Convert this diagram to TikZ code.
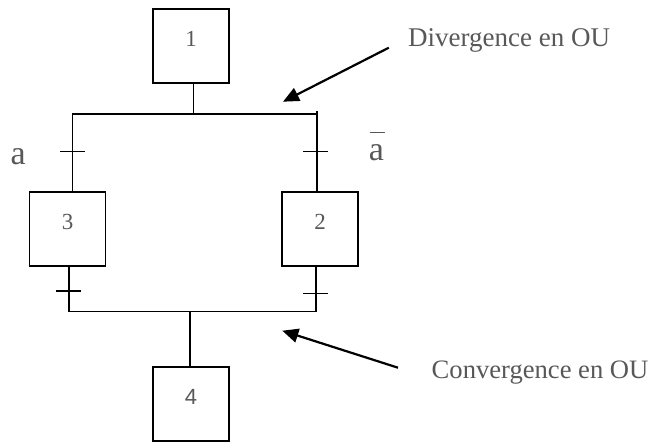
\documentclass[tikz,border=0pt]{standalone}
\usepackage{fontspec}
\setmainfont{Liberation Serif}
\newfontfamily\digsans{Liberation Sans}
\usetikzlibrary{arrows.meta,calc}
\definecolor{txtgray}{RGB}{88,88,88}
\begin{document}
\begin{tikzpicture}[x=1pt,y=-1pt,
  stepbox/.style={draw=black, line width=1.3pt, minimum width=76pt, minimum height=74pt,
    inner sep=0pt, text height=15pt, text depth=14pt, text=txtgray,
    font=\fontsize{23}{23}\selectfont},
  link/.style={line width=1.3pt, line cap=rect},
  tick/.style={line width=1.3pt},
  callout/.style={line width=2.2pt, -{Triangle[length=16pt,width=14pt]}},
  lbl/.style={text=txtgray, inner sep=0pt, anchor=base west},
  cond/.style={text=txtgray, inner sep=0pt, anchor=base west, font=\fontsize{34}{34}\selectfont}]
\useasboundingbox (0,0) rectangle (655,442);

% steps
\node[stepbox] (b1) at (191,46) {1};
\node[stepbox] (b3) at (67.5,229) {3};
\node[stepbox] (b2) at (320,229) {2};
\node[stepbox, font=\digsans\fontsize{22}{22}\selectfont] (b4) at (191,404) {4};

% junction points
\coordinate (j1) at (193.5,114);
\coordinate (tl) at (72.5,114);
\coordinate (tr) at (317,114);
\coordinate (bl) at (69,311.7);
\coordinate (br) at (316,311.7);
\coordinate (j2) at (190,311.7);

% divergence
\draw[link] (b1.south -| j1) -- (j1);
\draw[link] (b3.north -| tl) -- (tl) -- (tr) -- (b2.north -| tr);
\draw[link] (tr) -- ++(0,-2.5);
% convergence
\draw[link] (b3.south -| bl) -- (bl) -- (br) -- (b2.south -| br);
\draw[link] (j2) -- (b4.north -| j2);

% transitions
\coordinate (t1) at (72.5,151.7);
\coordinate (t2) at (315.5,151.7);
\coordinate (t3) at (68.5,291);
\coordinate (t4) at (315.5,293.7);
\foreach \t in {t1,t2,t3,t4}
  \draw[tick] ([xshift=-12.7pt]\t) -- ([xshift=12.7pt]\t);

% conditions
\node[cond] (ca) at (10.4,164.3) {a};
\node[cond] (cna) at (368.7,160) {a};
\draw[line width=1.3pt, txtgray] ([yshift=11pt,xshift=1pt]cna.north west) -- ([yshift=11pt,xshift=0.5pt]cna.north east);

% callouts
\node[lbl, font=\fontsize{27}{27}\selectfont] (div) at (408,46.7) {Divergence en OU};
\node[lbl, font=\fontsize{26.6}{26.6}\selectfont] (conv) at (431.5,378.3) {Convergence en OU};
\coordinate (a1s) at (388.8,47.7);
\coordinate (a1e) at (283,101.7);
\coordinate (a2s) at (398,367.7);
\coordinate (a2e) at (282.3,330.7);
\draw[callout] (a1s) -- (a1e);
\draw[callout] (a2s) -- (a2e);
\end{tikzpicture}
\end{document}
